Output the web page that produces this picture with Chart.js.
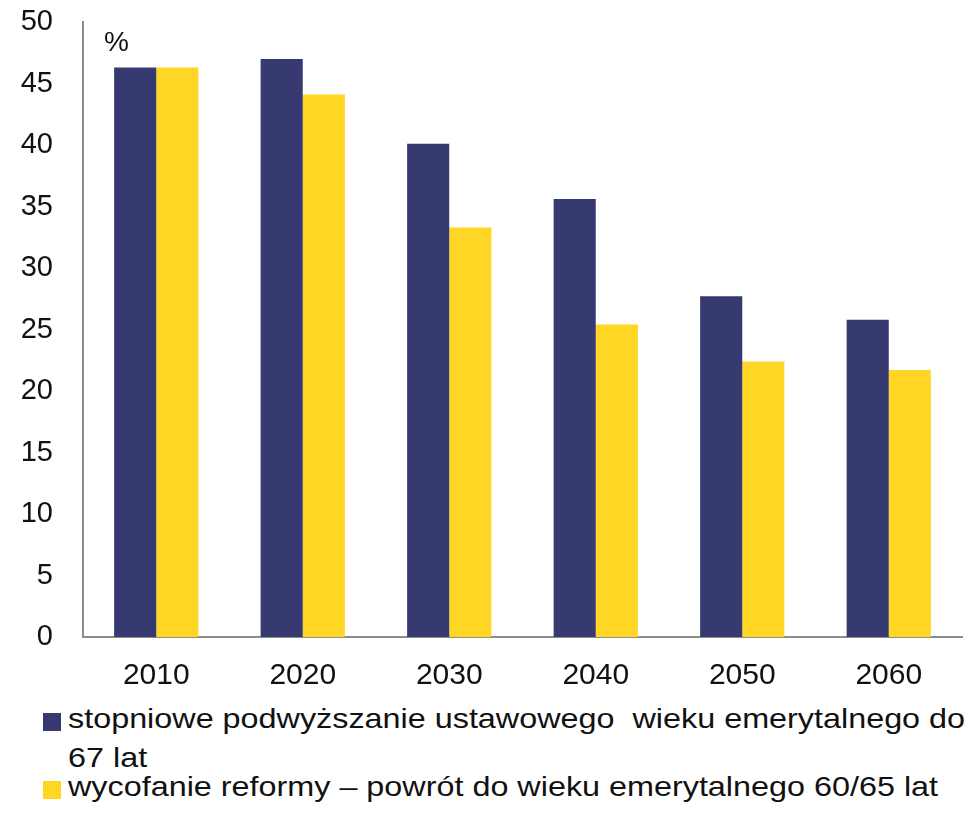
<!DOCTYPE html>
<html>
<head>
<meta charset="utf-8">
<script src="https://cdn.jsdelivr.net/npm/chart.js"></script>
<style>
  html, body { margin: 0; padding: 0; background: #fff; }
  body { width: 972px; height: 814px; position: relative; overflow: hidden; font-family: "Liberation Sans", Arial, sans-serif; color: #111; }
  #wrap { position: absolute; left: 0; top: 0; width: 972px; height: 700px; }
  .leg { position: absolute; left: 43px; font-size: 28px; line-height: 1; white-space: pre; }
  .leg .box { position: absolute; left: 0; width: 18px; height: 18px; }
  .leg .txt { position: absolute; left: 25px; transform: scaleX(1.155); transform-origin: 0 0; }
</style>
</head>
<body>
<div id="wrap"><canvas id="chart"></canvas></div>
<div class="leg" id="leg1" style="top:705px">
  <span class="box" style="top:8px;background:#373a70"></span>
  <span class="txt" style="top:0">stopniowe podwyższanie ustawowego  wieku emerytalnego do</span>
  <span class="txt" style="top:39px">67 lat</span>
</div>
<div class="leg" id="leg2" style="top:773px">
  <span class="box" style="top:8px;background:#fed623"></span>
  <span class="txt" style="top:0">wycofanie reformy – powrót do wieku emerytalnego 60/65 lat</span>
</div>
<script>
// dane z wykresu
const years = ['2010', '2020', '2030', '2040', '2050', '2060'];
const gradual67 = [46.3, 47.0, 40.1, 35.6, 27.7, 25.8];
const rollback6065 = [46.3, 44.1, 33.3, 25.4, 22.4, 21.7];
const yTicks = [0, 5, 10, 15, 20, 25, 30, 35, 40, 45, 50];

const NAVY = '#373a70';
const YELLOW = '#fed623';
const AXIS = '#8c8c8c';

// podpis "%" nad osia
const percentLabel = {
  id: 'percentLabel',
  afterDraw(chart) {
    const { ctx, chartArea } = chart;
    ctx.save();
    ctx.font = '28px "Liberation Sans", Arial, sans-serif';
    ctx.fillStyle = '#111';
    ctx.textBaseline = 'alphabetic';
    ctx.fillText('%', chartArea.left + 21, chartArea.top + 29);
    ctx.restore();
  }
};

new Chart(document.getElementById('chart'), {
  type: 'bar',
  data: {
    labels: years,
    datasets: [
      { label: 'stopniowe podwyższanie ustawowego wieku emerytalnego do 67 lat', data: gradual67, backgroundColor: NAVY },
      { label: 'wycofanie reformy – powrót do wieku emerytalnego 60/65 lat', data: rollback6065, backgroundColor: YELLOW }
    ]
  },
  options: {
    responsive: true,
    maintainAspectRatio: false,
    animation: false,
    layout: { padding: { top: 22, right: 10, left: 0, bottom: 0 } },
    datasets: { bar: { categoryPercentage: 0.575, barPercentage: 1.0, borderWidth: 0 } },
    plugins: { legend: { display: false }, tooltip: { enabled: false } },
    scales: {
      x: {
        grid: { display: false, drawTicks: false },
        border: { display: true, color: AXIS, width: 2 },
        ticks: { color: '#111', padding: 21, font: { size: 30, family: '"Liberation Sans", Arial, sans-serif' } },
        afterFit(scale) { scale.height = 63; scale.paddingLeft = 0; scale.paddingRight = 0; }
      },
      y: {
        min: 0,
        max: 50,
        afterBuildTicks(scale) { scale.ticks = yTicks.map(v => ({ value: v })); },
        grid: { display: false, drawTicks: false },
        border: { display: true, color: AXIS, width: 2 },
        ticks: { color: '#111', padding: 30, font: { size: 29, family: '"Liberation Sans", Arial, sans-serif' } },
        afterFit(scale) { scale.width = 83; scale.paddingTop = 0; scale.paddingBottom = 0; }
      }
    }
  },
  plugins: [percentLabel]
});
</script>
</body>
</html>
